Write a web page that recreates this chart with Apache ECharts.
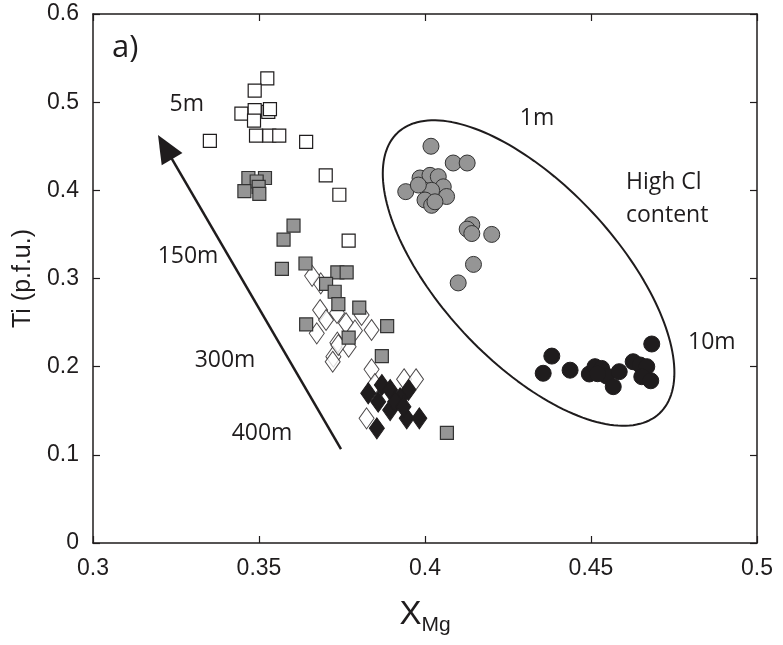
<!DOCTYPE html>
<html>
<head>
<meta charset="utf-8">
<script src="https://cdn.jsdelivr.net/npm/echarts@6/dist/echarts.min.js"></script>
<style>html,body{margin:0;padding:0;background:#fff;}#chart{width:783px;height:645px;}</style>
</head>
<body>
<div id="chart"></div>
<script>
// ---- data ----
const xTickLabels = ['0.3', '0.35', '0.4', '0.45', '0.5'];
const yTickLabels = ['0', '0.1', '0.2', '0.3', '0.4', '0.5', '0.6'];

// 5m (open squares)
const x5m = [0.3525,0.3487,0.3447,0.3487,0.3485,0.3528,0.3533,0.3491,0.3531,0.3561,0.3352,0.3642,0.3701,0.3742,0.3770];
const y5m = [0.527,0.513,0.487,0.491,0.479,0.489,0.492,0.462,0.462,0.462,0.456,0.455,0.417,0.395,0.343];
// 150m (grey squares)
const x150m = [0.3468,0.3518,0.3493,0.3499,0.3456,0.3501,0.3604,0.3574,0.3569,0.3640,0.3736,0.3764,0.3702,0.3728,0.3739,0.3802,0.3642,0.3886,0.3770,0.3870,0.4066];
const y150m = [0.414,0.414,0.410,0.404,0.399,0.396,0.360,0.344,0.311,0.317,0.307,0.307,0.294,0.285,0.271,0.267,0.248,0.246,0.233,0.212,0.125];
// 300m (open diamonds)
const x300m = [0.3686,0.3684,0.3702,0.3674,0.3735,0.3762,0.3789,0.3809,0.3839,0.3736,0.3770,0.3724,0.3722,0.3839,0.3937,0.3973,0.3849,0.3824,0.3739,0.3660];
const y300m = [0.2945,0.2643,0.2529,0.2378,0.2610,0.2492,0.2408,0.2586,0.2416,0.2272,0.2226,0.2113,0.2056,0.1970,0.1857,0.1857,0.1803,0.1414,0.2246,0.3030];
// 400m (black diamonds)
const x400m = [0.3829,0.3870,0.3895,0.3859,0.3895,0.3950,0.3925,0.3945,0.3983,0.3855,0.3910,0.3935];
const y400m = [0.1698,0.1792,0.1735,0.1603,0.1508,0.1735,0.1641,0.1414,0.1414,0.1301,0.1603,0.1546];
// 1m (grey circles)
const x1m = [0.4018,0.4085,0.4127,0.3942,0.3985,0.4015,0.4040,0.4055,0.4065,0.4020,0.3980,0.4000,0.4020,0.4030,0.4141,0.4127,0.4141,0.4201,0.4146,0.4100];
const y1m = [0.450,0.431,0.431,0.3985,0.414,0.417,0.4155,0.404,0.393,0.400,0.406,0.389,0.383,0.387,0.361,0.356,0.351,0.350,0.316,0.295];
// 10m (black circles)
const x10m = [0.4382,0.4356,0.4437,0.4495,0.4512,0.4532,0.4547,0.4567,0.4585,0.4627,0.4648,0.4668,0.4653,0.4680,0.4683,0.4520];
const y10m = [0.212,0.1925,0.196,0.1917,0.200,0.198,0.1894,0.1773,0.1943,0.2056,0.2019,0.200,0.1886,0.184,0.2257,0.192];

// annotation shapes (data space)
const ellipseCenter = [0.4312, 0.3062];
const ellipseU = [0.0394, -0.1593];
const ellipseV = [-0.0194, -0.0681];
const arrowTail = [0.3747, 0.1066];
const arrowTip = [0.3217, 0.4491];

// ---- build ----
const zip = (xs, ys) => xs.map((x, i) => [x, ys[i]]);
const ellipsePts = [];
for (let i = 0; i <= 180; i++) {
  const t = i / 180 * 2 * Math.PI;
  ellipsePts.push([
    ellipseCenter[0] + ellipseU[0] * Math.cos(t) + ellipseV[0] * Math.sin(t),
    ellipseCenter[1] + ellipseU[1] * Math.cos(t) + ellipseV[1] * Math.sin(t)
  ]);
}

const INK = '#1f1c1d';
const GREY = '#959595';
const annFont = '"Open Sans", sans-serif';
const tickFont = '"Liberation Sans", Arial, sans-serif';

const chart = echarts.init(document.getElementById('chart'), null, {renderer: 'canvas'});
const axisCommon = () => ({
  axisLine: {show: true, onZero: false, lineStyle: {color: INK, width: 1.5}},
  axisTick: {show: true, inside: true, length: 7, lineStyle: {color: INK, width: 1.2}},
  splitLine: {show: false}
});
chart.setOption({
  animation: false,
  backgroundColor: '#fff',
  grid: {left: 93, right: 26, top: 14, bottom: 102, containLabel: false},
  xAxis: [
    Object.assign(axisCommon(), {
      type: 'value', min: 0.3, max: 0.5, interval: 0.05, position: 'bottom',
      axisLabel: {formatter: (v, i) => xTickLabels[i], fontSize: 23, color: INK, fontFamily: tickFont, margin: 14},
      name: '{x|X}{s|Mg}', nameLocation: 'middle', nameGap: 50,
      nameTextStyle: {rich: {
        x: {fontSize: 33, color: INK, fontFamily: tickFont},
        s: {fontSize: 21, color: INK, fontFamily: tickFont, padding: [22, 0, 0, 0]}
      }}
    }),
    Object.assign(axisCommon(), {
      type: 'value', min: 0.3, max: 0.5, interval: 0.05, position: 'top',
      axisLabel: {show: false}
    })
  ],
  yAxis: [
    Object.assign(axisCommon(), {
      type: 'value', min: 0, max: 0.6, interval: 0.1, position: 'left',
      axisLabel: {formatter: (v, i) => yTickLabels[i], fontSize: 23, color: INK, fontFamily: tickFont, margin: 14},
      name: 'Ti (p.f.u.)', nameLocation: 'middle', nameRotate: 90, nameGap: 57,
      nameTextStyle: {fontSize: 25, color: INK, fontFamily: tickFont}
    }),
    Object.assign(axisCommon(), {
      type: 'value', min: 0, max: 0.6, interval: 0.1, position: 'right',
      axisLabel: {show: false}
    })
  ],
  series: [
    {name: '300m', type: 'scatter', data: zip(x300m, y300m), symbol: 'diamond', symbolSize: [15, 21],
     itemStyle: {color: '#fff', borderColor: INK, borderWidth: 1}},
    {name: '400m', type: 'scatter', data: zip(x400m, y400m), symbol: 'diamond', symbolSize: [15, 21],
     itemStyle: {color: INK, borderColor: INK, borderWidth: 1, opacity: 1}},
    {name: '150m', type: 'scatter', data: zip(x150m, y150m), symbol: 'rect', symbolSize: 13,
     itemStyle: {color: GREY, borderColor: '#333', borderWidth: 1.2, opacity: 1}},
    {name: '5m', type: 'scatter', data: zip(x5m, y5m), symbol: 'rect', symbolSize: 13,
     itemStyle: {color: '#fff', borderColor: INK, borderWidth: 1.2, opacity: 1}},
    {name: '1m', type: 'scatter', data: zip(x1m, y1m), symbol: 'circle', symbolSize: 16,
     itemStyle: {color: GREY, borderColor: '#333', borderWidth: 1, opacity: 1}},
    {name: '10m', type: 'scatter', data: zip(x10m, y10m), symbol: 'circle', symbolSize: 16,
     itemStyle: {color: INK, borderColor: INK, borderWidth: 1, opacity: 1}},
    {name: 'ellipse', type: 'line', data: ellipsePts, showSymbol: false, symbol: 'none',
     lineStyle: {color: INK, width: 2}, silent: true},
    {name: 'arrow', type: 'line', data: [], silent: true,
     markLine: {silent: true, symbol: ['none', 'triangle'], symbolSize: [24, 28],
       lineStyle: {color: INK, width: 2.5, type: 'solid'}, label: {show: false},
       data: [[{coord: arrowTail}, {coord: arrowTip}]]}}
  ],
  graphic: [
    {type: 'text', left: 112, top: 33, style: {text: 'a)', font: '31px ' + annFont, fill: INK}},
    {type: 'text', x: 204, y: 104, style: {text: '5m', font: '23px ' + annFont, fill: INK, textAlign: 'right', textVerticalAlign: 'middle'}},
    {type: 'text', x: 188, y: 256, style: {text: '150m', font: '23px ' + annFont, fill: INK, textAlign: 'center', textVerticalAlign: 'middle'}},
    {type: 'text', x: 225, y: 360, style: {text: '300m', font: '23px ' + annFont, fill: INK, textAlign: 'center', textVerticalAlign: 'middle'}},
    {type: 'text', x: 262, y: 433, style: {text: '400m', font: '23px ' + annFont, fill: INK, textAlign: 'center', textVerticalAlign: 'middle'}},
    {type: 'text', x: 537, y: 118, style: {text: '1m', font: '23px ' + annFont, fill: INK, textAlign: 'center', textVerticalAlign: 'middle'}},
    {type: 'text', x: 626, y: 182, style: {text: 'High Cl', font: '23px ' + annFont, fill: INK, textAlign: 'left', textVerticalAlign: 'middle'}},
    {type: 'text', x: 626, y: 215, style: {text: 'content', font: '23px ' + annFont, fill: INK, textAlign: 'left', textVerticalAlign: 'middle'}},
    {type: 'text', x: 688, y: 342, style: {text: '10m', font: '23px ' + annFont, fill: INK, textAlign: 'left', textVerticalAlign: 'middle'}}
  ]
});
</script>
</body>
</html>
